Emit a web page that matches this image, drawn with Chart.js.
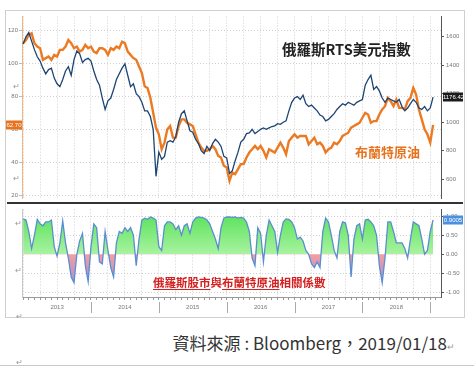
<!DOCTYPE html>
<html>
<head>
<meta charset="utf-8">
<script src="https://cdn.jsdelivr.net/npm/chart.js@4.4.0/dist/chart.umd.min.js"></script>
<style>
  body { margin:0; background:#fff; width:474px; height:369px; position:relative; overflow:hidden; font-family:"Noto Sans CJK TC", sans-serif; }
  #frame { position:absolute; left:5px; top:10px; width:458px; height:306px; border:1px solid #cfcfcf; }
  canvas { position:absolute; }
  #top { left:5px; top:11px; }
  #bot { left:5px; top:204px; }
  #sep { position:absolute; left:7px; top:202px; width:456px; height:2px; background:#333; }
  .lbl { position:absolute; white-space:nowrap; line-height:1; }
  #rtsLbl { left:282px; top:42px; font-size:14.5px; font-weight:bold; color:#222; }
  #brentLbl { left:355px; top:145px; font-size:13px; font-weight:bold; color:#e8731e; }
  #corrLbl { left:153px; top:277px; font-size:11.5px; font-weight:bold; color:#d42020; }
  #corrLbl u { text-decoration-color:#d42020; text-underline-offset:2px; }
  #src { right:19px; top:334px; font-size:17px; color:#333; }
  .mark { position:absolute; font-size:8px; color:#999; line-height:1; }
  #pageLine { position:absolute; left:0; top:365px; width:474px; height:1px; background:#c8c8c8; }
</style>
</head>
<body>
<div id="frame"></div>
<canvas id="top" width="458" height="193"></canvas>
<canvas id="bot" width="458" height="112"></canvas>
<div id="sep"></div>
<div class="lbl" id="rtsLbl">俄羅斯RTS美元指數</div>
<div class="lbl" id="brentLbl">布蘭特原油</div>
<div class="lbl" id="corrLbl"><u>俄羅斯股市</u>與<u>布蘭特原油</u>相關係數</div>
<div class="lbl" id="src">資料來源 : Bloomberg，2019/01/18<span style="font-size:9px;color:#999">↵</span></div>
<span class="mark" style="left:13px;top:82px">↵</span>
<span class="mark" style="left:13px;top:174px">↵</span>
<span class="mark" style="left:15px;top:219px">↵</span>
<span class="mark" style="left:15px;top:266px">↵</span>
<span class="mark" style="left:16px;top:312px">↵</span>
<span class="mark" style="left:16px;top:358px">↵</span>
<div id="pageLine"></div>
<script>
// half-month observations, Jan 2013 .. Jan 18 2019
const years = ['2013', '2014', '2015', '2016', '2017', '2018'];

const brent = [
  112, 114, 117, 118, 112, 110, 109, 102, 103, 104, 102, 105, 104, 108, 108, 110, 114, 112, 109, 110, 107, 108, 111, 109,
  110, 107, 106, 109, 109, 108, 105, 109, 108, 110, 109, 113, 112, 107, 105, 103, 102, 98, 94, 86, 85, 79, 70, 61,
  57, 48, 52, 60, 62, 55, 55, 62, 66, 66, 64, 63, 62, 57, 52, 49, 47, 47, 48, 50, 48, 44, 43, 38,
  37, 29, 34, 33, 36, 39, 39, 43, 46, 48, 50, 48, 50, 47, 43, 48, 47, 46, 49, 52, 49, 45, 53, 55,
  57, 55, 56, 56, 56, 51, 53, 55, 51, 52, 50, 46, 48, 49, 52, 51, 53, 56, 57, 58, 61, 62, 63, 64,
  67, 70, 69, 64, 65, 65, 69, 72, 74, 79, 77, 74, 78, 73, 73, 72, 77, 79, 85, 81, 72, 66, 60, 57,
  52, 62.7
];

const rts = [
  1550, 1600, 1630, 1570, 1510, 1460, 1430, 1380, 1340, 1370, 1380, 1310, 1270, 1250, 1300, 1360, 1390, 1330, 1440, 1500, 1480, 1420, 1440, 1450,
  1430, 1360, 1300, 1260, 1170, 1090, 1150, 1170, 1230, 1300, 1340, 1380, 1410, 1330, 1250, 1270, 1200, 1180, 1140, 1080, 1080, 1040, 950, 620,
  790, 740, 760, 860, 870, 860, 900, 1000, 1060, 1080, 1010, 940, 930, 880, 850, 800, 780, 830, 800, 850, 880, 860, 830, 760,
  750, 640, 660, 730, 790, 860, 880, 920, 925, 950, 920, 935, 950, 960, 950, 960, 970, 975, 990, 985, 1000, 1010, 1080, 1140,
  1170, 1180, 1160, 1190, 1130, 1110, 1120, 1100, 1080, 1050, 1040, 1010, 1020, 1040, 1060, 1090, 1110, 1130, 1120, 1140, 1130, 1120, 1140, 1150,
  1160, 1260, 1300, 1330, 1230, 1250, 1220, 1170, 1140, 1170, 1160, 1150, 1140, 1160, 1110, 1080, 1100, 1130, 1160, 1140, 1100, 1090, 1110, 1080,
  1100, 1176.42
];

const corr = [
  0.93, 0.9, 0.6, 0.15, 0.5, 0.92, 0.8, 0.75, 0.85, 0.85, 0.9, 0.2, -0.05, 0.3, 0.88, 0.3, -0.1, -0.6, -0.75, 0.0, 0.35, 0.55, -0.3, -0.72,
  0.2, 0.8, 0.7, -0.2, -0.25, 0.6, 0.1, -0.35, -0.6, 0.3, 0.6, 0.55, 0.7, 0.6, 0.7, 0.5, -0.3, 0.4, 0.9, 0.95, 0.92, 0.98, 0.95, 0.9,
  0.2, 0.1, 0.75, 0.85, 0.85, 0.8, 0.65, 0.75, 0.5, 0.75, 0.8, 0.55, 0.85, 0.95, 0.98, 0.97, 0.95, 0.9, 0.8, 0.6, 0.4, 0.15, 0.7, 0.95,
  0.98, 0.98, 0.97, 0.98, 0.95, 0.97, 0.95, 0.85, 0.6, -0.1, -0.3, 0.7, 0.55, -0.2, 0.5, 0.9, 0.75, 0.6, 0.05, 0.5, 0.85, 0.93, 0.92, 0.85,
  0.7, 0.4, 0.45, 0.35, 0.1, 0.0, -0.25, -0.35, -0.2, -0.35, 0.6, 0.95, 0.85, 0.5, 0.1, -0.1, 0.6, 0.85, 0.82, 0.5, -0.6, 0.4, 0.75, 0.8,
  0.4, 0.9, 0.92, 0.85, 0.75, 0.5, -0.3, -0.75, -0.1, 0.85, 0.85, 0.6, 0.3, 0.3, 0.3, 0.15, -0.1, 0.4, 0.85, 0.8, 0.75, 0.4, 0.0, 0.1,
  0.6, 0.9005
];

const brentTicks = [20, 40, 60, 80, 100, 120];
const rtsTicks = [600, 800, 1000, 1200, 1400, 1600];
const corrTicks = [-1, -0.5, 0, 0.5, 1];

// x position in months since Jan 2013
const pts = arr => arr.map((v, i) => ({ x: i / 2, y: v }));
const monthTicks = [];
for (let m = 0; m <= 73; m++) monthTicks.push({ value: m });
const quarterTicks = monthTicks.filter(t => t.value % 3 === 0);
const asTicks = arr => arr.map(v => ({ value: v }));

Chart.defaults.font.family = '"Liberation Sans", Arial, sans-serif';

const gridColor = '#cfcfcf';
const axisFont = { size: 6 };

function drawTag(ctx, x, y, w, text, bg) {
  ctx.save();
  ctx.fillStyle = bg;
  ctx.fillRect(x, Math.round(y) - 4.5, w, 9);
  ctx.fillStyle = '#fff';
  ctx.font = '6px "Liberation Sans", Arial';
  ctx.textAlign = 'center';
  ctx.textBaseline = 'middle';
  ctx.fillText(text, x + w / 2, Math.round(y) + 0.5);
  ctx.restore();
}

const topTags = {
  id: 'topTags',
  afterDraw(chart) {
    const { ctx, chartArea, scales } = chart;
    drawTag(ctx, chartArea.right + 2, scales.yr.getPixelForValue(rts[rts.length - 1]), 21, rts[rts.length - 1].toFixed(2), '#1b1b1b');
    drawTag(ctx, 1, scales.yl.getPixelForValue(brent[brent.length - 1]), 16, brent[brent.length - 1].toFixed(2), '#e8731e');
  }
};

const botExtras = {
  id: 'botExtras',
  afterDraw(chart) {
    const { ctx, chartArea, scales } = chart;
    ctx.save();
    ctx.strokeStyle = '#aaa';
    ctx.lineWidth = 1;
    for (let k = 1; k <= years.length; k++) {
      const px = Math.round(scales.x.getPixelForValue(12 * k)) + 0.5;
      ctx.beginPath();
      ctx.moveTo(px, chartArea.bottom + 5);
      ctx.lineTo(px, chartArea.bottom + 16);
      ctx.stroke();
    }
    ctx.restore();
    drawTag(ctx, chartArea.right + 2, scales.yr.getPixelForValue(corr[corr.length - 1]), 20, corr[corr.length - 1].toFixed(4), '#4a8fe0');
  }
};

new Chart(document.getElementById('top'), {
  type: 'line',
  data: {
    datasets: [
      { label: '俄羅斯RTS美元指數', data: pts(rts), yAxisID: 'yr', borderColor: '#1d4473', borderWidth: 1.3, pointRadius: 0, order: 0 },
      { label: '布蘭特原油', data: pts(brent), yAxisID: 'yl', borderColor: '#ec7a22', borderWidth: 2.4, pointRadius: 0, order: 1 }
    ]
  },
  options: {
    responsive: false,
    animation: false,
    layout: { padding: { top: 3, bottom: 1, left: 0, right: 0 } },
    plugins: { legend: { display: false }, tooltip: { enabled: false } },
    scales: {
      x: {
        type: 'linear', min: -0.2, max: 73.9,
        afterBuildTicks: s => { s.ticks = quarterTicks.slice(); },
        ticks: { display: false },
        grid: { color: gridColor, drawTicks: false },
        border: { display: false, dash: [1, 2] },
        afterFit: s => { s.height = 0; }
      },
      yl: {
        position: 'left', min: 18.3, max: 128.1,
        afterBuildTicks: s => { s.ticks = asTicks(brentTicks); },
        ticks: { font: axisFont, color: '#777', padding: 1, callback: v => String(v) },
        grid: { color: gridColor, tickColor: '#bbb', tickLength: 3 },
        border: { color: '#f3b47c', dash: [1, 2] },
        afterFit: s => { s.width = 17; }
      },
      yr: {
        position: 'right', min: 465, max: 1742,
        afterBuildTicks: s => { s.ticks = asTicks(rtsTicks); },
        ticks: { font: axisFont, color: '#777', padding: 2, callback: v => String(v) },
        grid: { drawOnChartArea: false, tickColor: '#555', tickLength: 3 },
        border: { color: '#555' },
        afterFit: s => { s.width = 22; }
      }
    }
  },
  plugins: [topTags]
});

new Chart(document.getElementById('bot'), {
  type: 'line',
  data: {
    datasets: [{
      label: '俄羅斯股市與布蘭特原油相關係數',
      data: pts(corr),
      yAxisID: 'yr',
      borderColor: '#5a8ed0',
      borderWidth: 1.3,
      pointRadius: 0,
      fill: 'origin',
      backgroundColor: c => {
        const { ctx, chartArea, scales } = c.chart;
        if (!chartArea) return 'transparent';
        const y1 = scales.yr.getPixelForValue(1);
        const y0 = scales.yr.getPixelForValue(0);
        const ym = scales.yr.getPixelForValue(-1);
        const f = (y0 - y1) / (ym - y1);
        const g = ctx.createLinearGradient(0, y1, 0, ym);
        g.addColorStop(0, '#5fe35f');
        g.addColorStop(f - 0.001, '#a8f3a0');
        g.addColorStop(f + 0.001, '#f0a0a4');
        g.addColorStop(1, '#9c88d6');
        return g;
      }
    }]
  },
  options: {
    responsive: false,
    animation: false,
    layout: { padding: { top: 1, bottom: 0, left: 0, right: 0 } },
    plugins: { legend: { display: false }, tooltip: { enabled: false } },
    scales: {
      x: {
        type: 'linear', min: -0.2, max: 73.9,
        afterBuildTicks: s => { s.ticks = monthTicks.slice(); },
        ticks: {
          autoSkip: false, maxRotation: 0, font: axisFont, color: '#777', padding: 4,
          callback: v => (v % 12 === 6 ? years[(v - 6) / 12] : '')
        },
        grid: {
          color: c => (c.tick && c.tick.value % 3 === 0 ? gridColor : 'transparent'),
          tickColor: '#999', tickLength: 3
        },
        border: { color: '#999', dash: [1, 2] },
        afterFit: s => { s.height = 19; }
      },
      yl: {
        position: 'left', min: -1.125, max: 1.175,
        ticks: { display: false },
        grid: { display: false },
        border: { color: '#c8c8c8' },
        afterFit: s => { s.width = 17; }
      },
      yr: {
        position: 'right', min: -1.125, max: 1.175,
        afterBuildTicks: s => { s.ticks = asTicks(corrTicks); },
        ticks: { font: axisFont, color: '#777', padding: 2, callback: v => v.toFixed(2) },
        grid: { color: c => (c.tick && c.tick.value === 0 ? 'transparent' : gridColor), tickColor: '#555', tickLength: 3 },
        border: { color: '#555', dash: [1, 2] },
        afterFit: s => { s.width = 22; }
      }
    }
  },
  plugins: [botExtras]
});
</script>
</body>
</html>
